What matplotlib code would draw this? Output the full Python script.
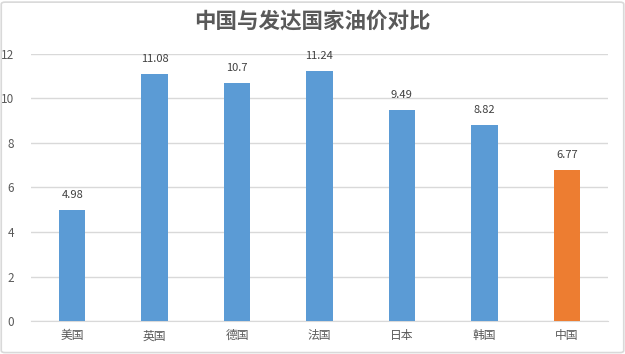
import matplotlib.pyplot as plt
from matplotlib.patches import FancyBboxPatch

plt.rcParams['font.family'] = ['Noto Sans CJK SC', 'DejaVu Sans']

countries = ["美国", "英国", "德国", "法国", "日本", "韩国", "中国"]
prices = [4.98, 11.08, 10.7, 11.24, 9.49, 8.82, 6.77]
labels = ["4.98", "11.08", "10.7", "11.24", "9.49", "8.82", "6.77"]
colors = ["#5B9BD5"] * 6 + ["#ED7D31"]

fig = plt.figure(figsize=(6.25, 3.54), dpi=100)
ax = fig.add_axes([0.0496, 0.0932, 0.9232, 0.7543])

x = range(len(countries))
bars = ax.bar(x, prices, width=0.32, color=colors, zorder=3)
for b, t in zip(bars, labels):
    ax.text(b.get_x() + b.get_width() / 2, b.get_height() + 0.45, t,
            ha="center", va="bottom", fontsize=8, color="#404040")

ax.set_xlim(-0.5, len(countries) - 0.5)
ax.set_ylim(0, 12)
ax.set_yticks(range(0, 13, 2))
ax.set_xticks(list(x))
ax.set_xticklabels(countries)
ax.tick_params(axis="both", length=0, colors="#595959", labelsize=8.5)
ax.tick_params(axis="y", pad=12)
ax.tick_params(axis="x", pad=6)
ax.grid(axis="y", color="#D9D9D9", linewidth=1, zorder=0)
for s in ["left", "right", "top"]:
    ax.spines[s].set_visible(False)
ax.spines["bottom"].set_color("#D9D9D9")

fig.text(0.5, 0.94, "中国与发达国家油价对比", ha="center", va="center",
         fontsize=15.5, fontweight="bold", color="#595959")

frame = FancyBboxPatch((0.002, 0.004), 0.996, 0.99, boxstyle="round,pad=0,rounding_size=0.006",
                       transform=fig.transFigure, fill=False, edgecolor="#D9D9D9", linewidth=1.2)
fig.patches.append(frame)

fig.savefig("out.png", dpi=100)
